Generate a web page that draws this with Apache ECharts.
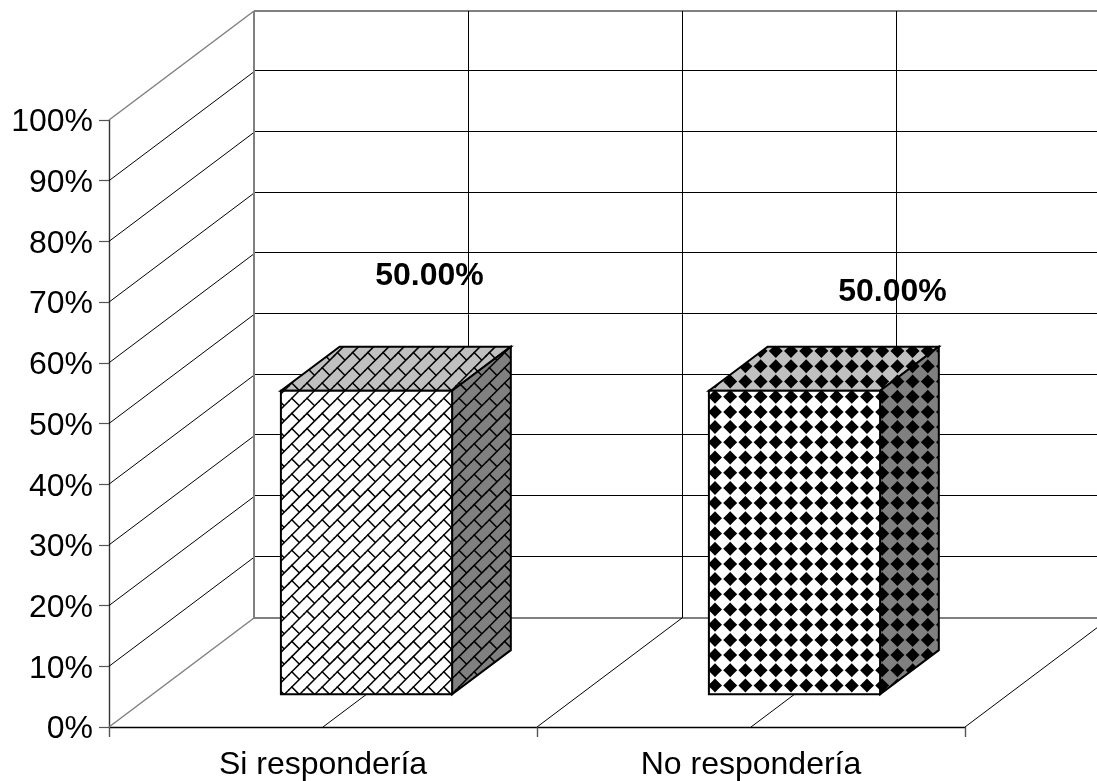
<!DOCTYPE html>
<html>
<head>
<meta charset="utf-8">
<title>Si respondería / No respondería</title>
<script src="https://cdn.jsdelivr.net/npm/echarts@6/dist/echarts.min.js"></script>
<style>
html, body { margin: 0; padding: 0; background: #fff; }
#chart { width: 1097px; height: 781px; }
</style>
</head>
<body>
<div id="chart"></div>
<script>
// Chart data
const categories = ['Si respondería', 'No respondería'];
const shares = [50, 50];
const gridValues = [0, 10, 20, 30, 40, 50, 60, 70, 80, 90, 100];
const wallDivisions = [0, 1, 2, 3, 4];

// Oblique projection of the 3D box: screen shift of the full floor depth
const DEPTH_X = 145;
const DEPTH_Y = 109;
const BAR_FRONT = 0.3;    // share of the depth where the column starts
const BAR_DEPTH = 0.405;  // share of the depth the column occupies
const BAR_WIDTH = 0.4;    // share of the category band
const FONT = '"Liberation Sans", Arial, sans-serif';
const LABEL_SHIFT = [[63, -115], [98, -99]];

// Fill tiles: five repeats of a 15.2px cell so the fractional period stays seamless
const CELL = 15.2;
function makeTile(drawCell, bg) {
  const c = document.createElement('canvas');
  c.width = c.height = Math.round(CELL * 5);
  const g = c.getContext('2d');
  g.fillStyle = bg;
  g.fillRect(0, 0, c.width, c.height);
  for (let i = -2; i <= 5; i++) {
    for (let j = -2; j <= 5; j++) {
      g.save();
      g.translate(i * CELL, j * CELL);
      drawCell(g);
      g.restore();
    }
  }
  return { image: c, repeat: 'repeat' };
}
function brickCell(g) {
  g.strokeStyle = '#000';
  g.lineWidth = 1.5;
  g.lineCap = 'square';
  g.beginPath();
  g.moveTo(0, 6 + CELL);
  g.lineTo(CELL, 6);
  g.moveTo(3, 3);
  g.lineTo(3 + CELL / 2, 3 + CELL / 2);
  g.stroke();
}
function diamondCell(g) {
  const r = 7, cx = 0.6, cy = 1.5, k = 3.4;
  g.fillStyle = '#000';
  g.beginPath();
  g.moveTo(cx, cy - r);
  g.quadraticCurveTo(cx + k, cy - k, cx + r, cy);
  g.quadraticCurveTo(cx + k, cy + k, cx, cy + r);
  g.quadraticCurveTo(cx - k, cy + k, cx - r, cy);
  g.quadraticCurveTo(cx - k, cy - k, cx, cy - r);
  g.fill();
}
const faceFills = [
  { front: makeTile(brickCell, '#fff'), top: makeTile(brickCell, '#c0c0c0'), side: makeTile(brickCell, '#808080') },
  { front: makeTile(diamondCell, '#fff'), top: makeTile(diamondCell, '#c0c0c0'), side: makeTile(diamondCell, '#808080') }
];

const crisp = v => Math.floor(v) + 0.5;
const seg = (x1, y1, x2, y2, stroke, lineWidth) => ({
  type: 'line',
  shape: { x1, y1, x2, y2 },
  style: { stroke, lineWidth, fill: null }
});

// Horizontal lines on the back wall and their slanted partners on the side wall
function renderWallLine(params, api) {
  const v = api.value(1);
  const grid = params.coordSys;
  const y = api.coord([0, v])[1];
  const left = grid.x;
  const right = grid.x + grid.width;
  const edge = v === 0 || v === 100;
  const color = edge ? '#808080' : '#000';
  const yBack = edge ? Math.round(y - DEPTH_Y) : crisp(y - DEPTH_Y - 1);
  return {
    type: 'group',
    children: [
      seg(left, y, left + DEPTH_X, y - DEPTH_Y, color, edge ? 1.5 : 1),
      seg(left + DEPTH_X, yBack, right + DEPTH_X, yBack, color, edge ? 2 : 1)
    ]
  };
}

// Floor diagonals and back-wall verticals, every half category band
function renderDivision(params, api) {
  const grid = params.coordSys;
  const step = wallDivisions[params.dataIndex];
  const x = grid.x + step * api.size([1, 0])[0] / 2;
  const y0 = grid.y + grid.height;
  const first = step === 0;
  const xBack = first ? x + DEPTH_X : crisp(x + DEPTH_X);
  const children = [
    seg(xBack, grid.y - DEPTH_Y, xBack, y0 - DEPTH_Y, first ? '#808080' : '#000', first ? 2 : 1)
  ];
  if (!first) children.push(seg(x, y0, x + DEPTH_X, y0 - DEPTH_Y, '#000', 1));
  return { type: 'group', children };
}

// Column box: front, top and right faces, plus the value label
function renderColumn(params, api) {
  const i = params.dataIndex;
  const value = api.value(1);
  const base = api.coord([i, 0]);
  const tip = api.coord([i, value]);
  const half = api.size([1, 0])[0] * BAR_WIDTH / 2;
  const dx = DEPTH_X * BAR_FRONT, dy = DEPTH_Y * BAR_FRONT;
  const bx = DEPTH_X * BAR_DEPTH, by = DEPTH_Y * BAR_DEPTH;
  const xl = base[0] + dx - half, xr = base[0] + dx + half;
  const yb = base[1] - dy, yt = tip[1] - dy;
  const edge = { stroke: '#000', lineWidth: 2, lineJoin: 'miter' };
  const fills = faceFills[i];
  return {
    type: 'group',
    children: [
      { type: 'polygon', shape: { points: [[xl, yt], [xl + bx, yt - by], [xr + bx, yt - by], [xr, yt]] }, style: { fill: fills.top, ...edge } },
      { type: 'polygon', shape: { points: [[xr, yt], [xr + bx, yt - by], [xr + bx, yb - by], [xr, yb]] }, style: { fill: fills.side, ...edge } },
      { type: 'polygon', shape: { points: [[xl, yt], [xr, yt], [xr, yb], [xl, yb]] }, style: { fill: fills.front, ...edge } },
      {
        type: 'text',
        style: {
          text: value.toFixed(2) + '%',
          x: base[0] + dx + LABEL_SHIFT[i][0],
          y: yt + LABEL_SHIFT[i][1],
          fill: '#000',
          font: 'bold 32px ' + FONT,
          textAlign: 'center',
          textVerticalAlign: 'middle'
        }
      }
    ]
  };
}

const chart = echarts.init(document.getElementById('chart'), null, { renderer: 'canvas' });
chart.setOption({
  animation: false,
  backgroundColor: '#fff',
  grid: { left: 109, right: 132, top: 120, bottom: 54, containLabel: false },
  xAxis: {
    type: 'category',
    data: categories,
    boundaryGap: true,
    axisLine: { show: true, lineStyle: { color: '#000', width: 1.4 } },
    axisTick: { show: true, alignWithLabel: false, length: 10, lineStyle: { color: '#555', width: 1.4 } },
    axisLabel: { color: '#000', fontFamily: FONT, fontSize: 32, margin: 22, interval: 0 },
    splitLine: { show: false }
  },
  yAxis: {
    type: 'value',
    min: 0,
    max: 100,
    interval: 10,
    axisLine: { show: true, lineStyle: { color: '#333', width: 1.4 } },
    axisTick: { show: true, length: 10, lineStyle: { color: '#555', width: 1.2 } },
    axisLabel: { color: '#000', fontFamily: FONT, fontSize: 32, margin: 16, verticalAlign: 'top', lineHeight: 5, formatter: '{value}%' },
    splitLine: { show: false }
  },
  series: [
    {
      type: 'custom',
      clip: false,
      silent: true,
      z: 1,
      renderItem: renderWallLine,
      encode: { x: 0, y: 1 },
      data: gridValues.map(v => [0, v])
    },
    {
      type: 'custom',
      clip: false,
      silent: true,
      z: 1,
      renderItem: renderDivision,
      encode: { x: 0, y: 1 },
      data: wallDivisions.map(() => [0, 0])
    },
    {
      type: 'custom',
      clip: false,
      z: 3,
      renderItem: renderColumn,
      encode: { x: 0, y: 1 },
      data: shares.map((v, i) => [i, v])
    }
  ]
});
</script>
</body>
</html>
